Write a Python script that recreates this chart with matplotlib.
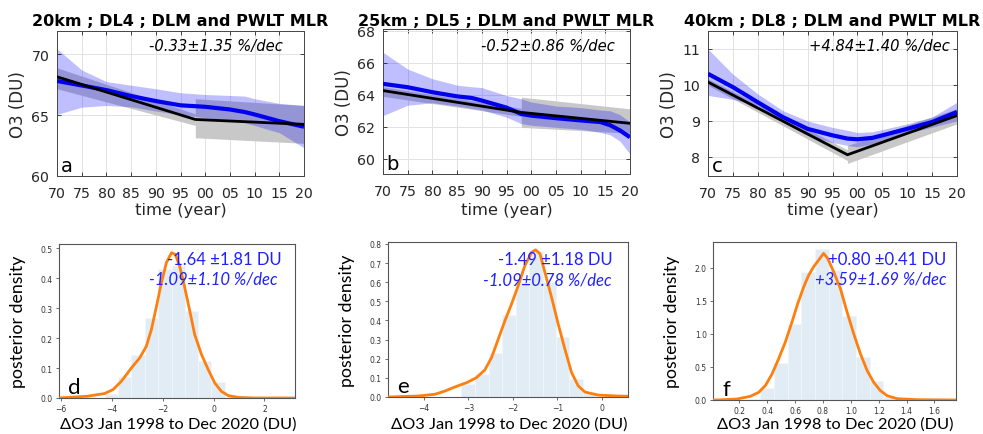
import numpy as np
import matplotlib
matplotlib.use("Agg")
import matplotlib.pyplot as plt

# ---------------- data ----------------
year_ticks = [1970, 1975, 1980, 1985, 1990, 1995, 2000, 2005, 2010, 2015, 2020]
year_labels = ["70", "75", "80", "85", "90", "95", "00", "05", "10", "15", "20"]

titles = ["20km ; DL4 ; DLM and PWLT MLR",
          "25km ; DL5 ; DLM and PWLT MLR",
          "40km ; DL8 ; DLM and PWLT MLR"]
trend_texts = ["-0.33\u00b11.35 %/dec", "-0.52\u00b10.86 %/dec", "+4.84\u00b11.40 %/dec"]
top_letters = ["a", "b", "c"]

# DLM (blue) years, mean, band
dlm_years_a = [1970, 1975, 1980, 1985, 1990, 1995, 2000, 2005, 2008, 2010, 2015, 2020]
dlm_mean_a = [67.8, 67.43, 67.05, 66.56, 66.15, 65.8, 65.68, 65.46, 65.25, 65.05, 64.5, 64.04]
dlm_hi_a = [70.44, 68.7, 67.75, 67.45, 67.16, 66.83, 66.69, 66.61, 66.56, 66.34, 65.96, 65.79]
dlm_lo_a = [65.05, 65.65, 65.79, 65.68, 65.33, 65.05, 64.78, 64.59, 64.37, 64.15, 63.55, 62.32]

dlm_years_b = [1970, 1975, 1980, 1985, 1988, 1990, 1995, 1998, 2000, 2005, 2010, 2014, 2016, 2018, 2020]
dlm_mean_b = [64.68, 64.47, 64.16, 63.9, 63.8, 63.64, 63.2, 62.8, 62.7, 62.54, 62.4, 62.3, 62.1, 61.77, 61.35]
dlm_hi_b = [66.65, 65.6, 65.0, 64.6, 64.5, 64.45, 63.95, 63.75, 63.55, 63.3, 63.2, 63.05, 63.0, 62.75, 62.3]
dlm_lo_b = [62.7, 63.35, 63.5, 63.3, 63.15, 63.05, 62.6, 62.2, 62.1, 61.97, 61.85, 61.65, 61.5, 61.1, 60.3]

dlm_years_c = [1970, 1975, 1980, 1985, 1990, 1995, 1998, 2000, 2003, 2005, 2010, 2015, 2020]
dlm_mean_c = [10.31, 9.94, 9.52, 9.11, 8.78, 8.6, 8.51, 8.49, 8.53, 8.6, 8.78, 8.97, 9.25]
dlm_hi_c = [11.0, 10.3, 9.75, 9.29, 9.0, 8.82, 8.74, 8.68, 8.7, 8.76, 8.92, 9.11, 9.52]
dlm_lo_c = [9.71, 9.6, 9.43, 8.97, 8.6, 8.4, 8.32, 8.28, 8.36, 8.46, 8.65, 8.83, 9.0]

# PWLT (black) with turnaround in 1998
pwlt_years = [1970, 1998, 2020]
pwlt_mean_a = [68.14, 64.64, 64.24]
pwlt_mean_b = [64.26, 62.9, 62.22]
pwlt_mean_c = [10.08, 8.06, 9.15]

pre_years = [1970, 1998]
post_years = [1998, 2020]
pre_hi_a, pre_lo_a = [68.88, 65.1], [67.16, 64.15]
post_hi_a, post_lo_a = [66.34, 65.79], [63.14, 62.68]
pre_hi_b, pre_lo_b = [64.5, 63.15], [63.9, 62.65]
post_hi_b, post_lo_b = [63.85, 63.12], [61.97, 61.6]
pre_hi_c, pre_lo_c = [10.17, 8.2], [9.99, 7.9]
post_hi_c, post_lo_c = [8.32, 9.34], [7.82, 8.92]

top_ylims = [(60, 71.9), (59.06, 68.1), (7.47, 11.5)]
top_yticks = [[60, 65, 70], [60, 62, 64, 66, 68], [8, 9, 10, 11]]

# posterior histograms and KDEs
hist_edges_d = [-4.28, -3.76, -3.23, -2.70, -2.18, -1.65, -1.13, -0.61, -0.08, 0.44, 0.96]
hist_h_d = [0.015, 0.069, 0.145, 0.268, 0.432, 0.44, 0.29, 0.125, 0.053, 0.005]
kde_x_d = [-6.09, -4.94, -4.28, -3.95, -3.62, -3.23, -2.90, -2.64, -2.44, -2.24, -2.05, -1.85,
           -1.65, -1.50, -1.33, -1.13, -0.93, -0.74, -0.47, -0.21, 0.05, 0.31, 0.58, 0.97, 1.63, 3.2]
kde_y_d = [0.0, 0.006, 0.015, 0.028, 0.056, 0.10, 0.134, 0.173, 0.229, 0.307, 0.385, 0.453,
           0.486, 0.480, 0.441, 0.369, 0.29, 0.212, 0.145, 0.095, 0.05, 0.022, 0.008, 0.002, 0.0, 0.0]

hist_edges_e = [-3.16, -2.86, -2.54, -2.24, -1.93, -1.64, -1.33, -1.03, -0.73, -0.43, -0.13]
hist_h_e = [0.066, 0.119, 0.229, 0.428, 0.6, 0.765, 0.6, 0.311, 0.096, 0.02]
kde_x_e = [-4.81, -4.14, -3.76, -3.53, -3.31, -3.04, -2.82, -2.63, -2.48, -2.33, -2.18, -2.03,
           -1.88, -1.73, -1.58, -1.49, -1.39, -1.28, -1.13, -0.98, -0.83, -0.68, -0.53, -0.38,
           -0.08, 0.37, 0.6]
kde_y_e = [0.0, 0.005, 0.014, 0.031, 0.052, 0.075, 0.101, 0.142, 0.206, 0.302, 0.398, 0.486,
           0.582, 0.687, 0.756, 0.769, 0.748, 0.652, 0.521, 0.381, 0.25, 0.128, 0.058, 0.026,
           0.01, 0.005, 0.004]

hist_edges_f = [0.255, 0.351, 0.446, 0.547, 0.645, 0.746, 0.841, 0.937, 1.038, 1.135, 1.232, 1.33]
hist_h_f = [0.02, 0.18, 0.56, 1.15, 1.94, 2.28, 1.96, 1.27, 0.65, 0.29, 0.05]
kde_x_f = [0.011, 0.04, 0.183, 0.279, 0.339, 0.387, 0.435, 0.482, 0.530, 0.578, 0.619, 0.662,
           0.698, 0.733, 0.769, 0.805, 0.834, 0.877, 0.925, 0.973, 1.021, 1.069, 1.117, 1.164,
           1.212, 1.260, 1.332, 1.476, 1.755]
kde_y_f = [0.0, 0.0, 0.015, 0.056, 0.116, 0.218, 0.395, 0.623, 0.876, 1.18, 1.458, 1.711,
           1.889, 2.015, 2.116, 2.218, 2.142, 1.939, 1.686, 1.332, 1.0, 0.699, 0.446, 0.268,
           0.142, 0.066, 0.02, 0.005, 0.0]

bottom_xlims = [(-6.07, 3.2), (-4.81, 0.59), (0.011, 1.755)]
bottom_ylims = [(0, 0.515), (0, 0.81), (0, 2.39)]
bottom_xticks = [[-6, -4, -2, 0, 2], [-4, -3, -2, -1, 0], [0.2, 0.4, 0.6, 0.8, 1.0, 1.2, 1.4, 1.6]]
bottom_yticks = [[0.0, 0.1, 0.2, 0.3, 0.4, 0.5], [0.0, 0.1, 0.2, 0.3, 0.4, 0.5, 0.6, 0.7, 0.8],
                 [0.0, 0.5, 1.0, 1.5, 2.0]]
delta_texts = ["-1.64 \u00b11.81 DU", "-1.49 \u00b11.18 DU", "+0.80 \u00b10.41 DU"]
pct_texts = ["-1.09\u00b11.10 %/dec", "-1.09\u00b10.78 %/dec", "+3.59\u00b11.69 %/dec"]
bottom_letters = ["d", "e", "f"]

# ---------------- figure ----------------
W, H = 983, 435
fig = plt.figure(figsize=(W / 100, H / 100), dpi=100)


def px_axes(l, r, t, b):
    return fig.add_axes([l / W, 1 - b / H, (r - l) / W, (b - t) / H])


top_boxes = [(57, 304, 32, 177), (383, 630, 30, 175), (708, 957, 32, 177)]
bot_boxes = [(59, 295, 245, 399), (388, 628, 243, 398), (713, 956, 243, 401)]

top_data = [
    (dlm_years_a, dlm_mean_a, dlm_hi_a, dlm_lo_a, pwlt_mean_a, pre_hi_a, pre_lo_a, post_hi_a, post_lo_a),
    (dlm_years_b, dlm_mean_b, dlm_hi_b, dlm_lo_b, pwlt_mean_b, pre_hi_b, pre_lo_b, post_hi_b, post_lo_b),
    (dlm_years_c, dlm_mean_c, dlm_hi_c, dlm_lo_c, pwlt_mean_c, pre_hi_c, pre_lo_c, post_hi_c, post_lo_c),
]
trend_x = [0.915, 0.939, 0.972]
trend_y = [0.897, 0.883, 0.897]

dark = "#262626"
for i in range(3):
    l, r, t, b = top_boxes[i]
    ax = px_axes(l, r, t, b)
    hpx = b - t
    yrs, mean, hi, lo, pw, prh, prl, poh, pol = top_data[i]
    ax.fill_between(pre_years, prl, prh, color="#c8c8c8", lw=0, zorder=1)
    ax.fill_between(post_years, pol, poh, color="#c8c8c8", lw=0, zorder=1)
    ax.fill_between(yrs, lo, hi, color=(0, 0, 1), alpha=0.25, lw=0, zorder=2)
    ax.plot(yrs, mean, color="#0000ee", lw=3.0, zorder=3, solid_capstyle="butt")
    ax.plot(pwlt_years, pw, color="black", lw=2.0, zorder=4)
    ax.set_xlim(1970, 2020)
    ax.set_ylim(*top_ylims[i])
    ax.set_xticks(year_ticks)
    ax.set_xticklabels(year_labels)
    ax.set_yticks(top_yticks[i])
    ax.grid(True, color="#e2e2e2", lw=0.7)
    ax.set_axisbelow(True)
    ax.tick_params(direction="in", length=3, width=0.6, top=True, right=True,
                   labelsize=10.2, colors=dark)
    ax.tick_params(axis="x", pad=7)
    ax.tick_params(axis="y", pad=5.5)
    for s in ax.spines.values():
        s.set_color("#444444")
        s.set_linewidth(0.7)
    ax.set_xlabel("time (year)", fontsize=11.8, color=dark)
    ax.xaxis.set_label_coords(0.5, (b - 211) / hpx)
    ax.xaxis.label.set_va("center")
    ax.set_ylabel("O3 (DU)", fontsize=12, color=dark)
    ax.yaxis.set_label_coords(-0.157, 0.5)
    ax.yaxis.label.set_va("center")
    ax.text(0.5, (b - 21.7) / hpx, titles[i], transform=ax.transAxes, ha="center", va="center",
            fontsize=11.5, fontweight="bold", color="black")
    ax.text(trend_x[i], trend_y[i], trend_texts[i], transform=ax.transAxes, ha="right",
            va="center", fontsize=10.6, style="italic", color="black", zorder=6)
    ax.text(0.015, 0.035, top_letters[i], transform=ax.transAxes, ha="left", va="baseline",
            fontsize=14, color="black", zorder=6)

bot_data = [(hist_edges_d, hist_h_d, kde_x_d, kde_y_d),
            (hist_edges_e, hist_h_e, kde_x_e, kde_y_e),
            (hist_edges_f, hist_h_f, kde_x_f, kde_y_f)]
txt1_pos = [(0.945, 0.90), (0.936, 0.89), (0.959, 0.892)]
txt2_pos = [(0.924, 0.773), (0.932, 0.76), (0.959, 0.766)]
cal = ["Lato", "DejaVu Sans"]

for i in range(3):
    l, r, t, b = bot_boxes[i]
    ax = px_axes(l, r, t, b)
    hpx = b - t
    edges, h, kx, ky = bot_data[i]
    edges = np.asarray(edges)
    ax.bar(edges[:-1], h, width=np.diff(edges), align="edge", color="#e1ecf5",
           edgecolor="#f3f8fc", lw=0.4, zorder=1)
    ax.plot(kx, ky, color="#ff7f0e", lw=2.0, zorder=3, solid_capstyle="round")
    ax.set_xlim(*bottom_xlims[i])
    ax.set_ylim(*bottom_ylims[i])
    ax.set_xticks(bottom_xticks[i])
    ax.set_yticks(bottom_yticks[i])
    ax.tick_params(labelsize=5.5, length=2.5, width=0.5, colors="#333333", pad=2)
    for s in ax.spines.values():
        s.set_color("#555555")
        s.set_linewidth(0.8)
    ax.set_ylabel("posterior density", fontsize=12.8, family=cal, color="black")
    ax.yaxis.set_label_coords(-41.0 / (r - l), 0.5)
    ax.yaxis.label.set_va("center")
    ax.set_xlabel("\u0394O3 Jan 1998 to Dec 2020 (DU)", fontsize=11.8, family=cal, color="black")
    ax.xaxis.set_label_coords(0.504, (b - 425) / hpx)
    ax.xaxis.label.set_va("center")
    ax.text(*txt1_pos[i], delta_texts[i], transform=ax.transAxes, ha="right", va="center",
            fontsize=12, family=cal, color="#2020ff", zorder=5)
    ax.text(*txt2_pos[i], pct_texts[i], transform=ax.transAxes, ha="right", va="center",
            fontsize=12, family=cal, style="italic", color="#2020ff", zorder=5)
    ax.text(0.04, 0.032, bottom_letters[i], transform=ax.transAxes, ha="left", va="baseline",
            fontsize=16, family=cal, color="black", zorder=5)

fig.savefig("out.png", dpi=100)
